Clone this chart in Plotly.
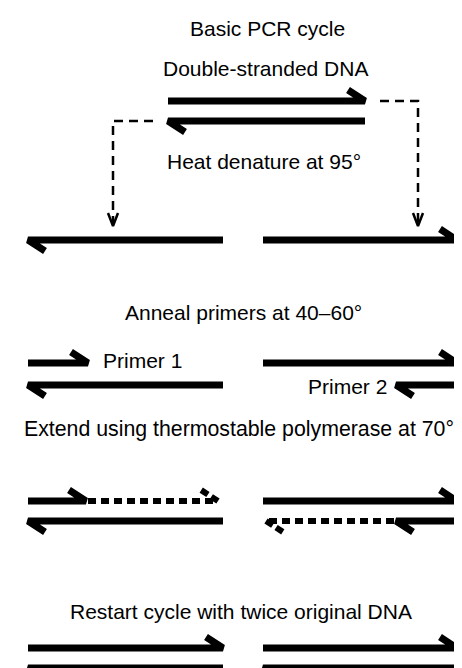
import plotly.graph_objects as go

W, H = 462, 668

# ---- diagram data (diagram coordinates: x to the right, y downwards) ----
# strands: x_from, x_to (arrow tip at x_to), y, style
strand_x_from = [160, 357, 215, 255, 20, 255, 215, 449, 20, 80, 255, 215, 449, 386, 20, 255, 215, 449]
strand_x_to   = [357, 160, 20, 449, 80, 449, 20, 388, 78, 210, 449, 20, 388, 258, 215, 449, 20, 255]
strand_y      = [93, 113, 232, 232, 355, 355, 377, 377, 493, 493, 493, 513, 513, 513, 640, 640, 660, 660]
strand_style  = ["solid"] * 9 + ["dash", "solid", "solid", "solid", "dash"] + ["solid"] * 4

# dashed connectors (path points) from double strand down to denatured strands
conn_x = [[372, 410, 410], [145, 105, 105]]
conn_y = [[93, 93, 216], [113, 113, 216]]

labels = ["Basic PCR cycle", "Double-stranded DNA", "Heat denature at 95°",
          "Anneal primers at 40–60°", "Primer 1", "Primer 2",
          "Extend using thermostable polymerase at 70°",
          "Restart cycle with twice original DNA"]
label_x = [259, 257, 256, 235, 93, 381, 231, 233]
label_y = [20, 60, 153, 304, 352, 378, 421, 603]
label_anchor = ["center", "center", "center", "center", "left", "right", "center", "center"]
label_size = [21, 21, 21, 21, 21, 21, 21.3, 21]

fig = go.Figure()

BAR_W = 7
BARB_DX, BARB_DY = 17, 11

for x0, x1, y, st in zip(strand_x_from, strand_x_to, strand_y, strand_style):
    direction = 1 if x1 > x0 else -1
    # harpoon: right-pointing barb goes up-left, left-pointing barb goes down-right
    bx = x1 - direction * BARB_DX
    by = y - BARB_DY if direction == 1 else y + BARB_DY
    if st == "solid":
        fig.add_trace(go.Scatter(x=[x0, x1, bx], y=[y, y, by], mode="lines",
                                 line=dict(color="black", width=BAR_W),
                                 hoverinfo="skip", showlegend=False))
    else:
        fig.add_trace(go.Scatter(x=[x0, x1], y=[y, y], mode="lines",
                                 line=dict(color="black", width=BAR_W - 1, dash="8px,5px"),
                                 hoverinfo="skip", showlegend=False))
        fig.add_trace(go.Scatter(x=[x1, bx], y=[y, by], mode="lines",
                                 line=dict(color="black", width=BAR_W - 1, dash="8px,4px"),
                                 hoverinfo="skip", showlegend=False))

for cx, cy in zip(conn_x, conn_y):
    fig.add_trace(go.Scatter(x=cx, y=cy, mode="lines",
                             line=dict(color="black", width=2.5, dash="9px,6px"),
                             hoverinfo="skip", showlegend=False))
    tx, ty = cx[-1], cy[-1] + 2
    fig.add_trace(go.Scatter(x=[tx - 5, tx, tx + 5], y=[ty - 13, ty, ty - 13], mode="lines",
                             line=dict(color="black", width=2.5),
                             hoverinfo="skip", showlegend=False))

for t, x, y, a, s in zip(labels, label_x, label_y, label_anchor, label_size):
    fig.add_annotation(x=x, y=y, text=t, showarrow=False, xanchor=a, yanchor="middle",
                       font=dict(family="Liberation Sans, Arial, sans-serif", size=s, color="black"))

fig.update_xaxes(range=[0, W], visible=False, fixedrange=True)
fig.update_yaxes(range=[H, 0], visible=False, fixedrange=True)
fig.update_layout(width=W, height=H, margin=dict(l=0, r=0, t=0, b=0),
                  paper_bgcolor="white", plot_bgcolor="white", showlegend=False)

fig.write_html("out.html", config={"displayModeBar": False})
